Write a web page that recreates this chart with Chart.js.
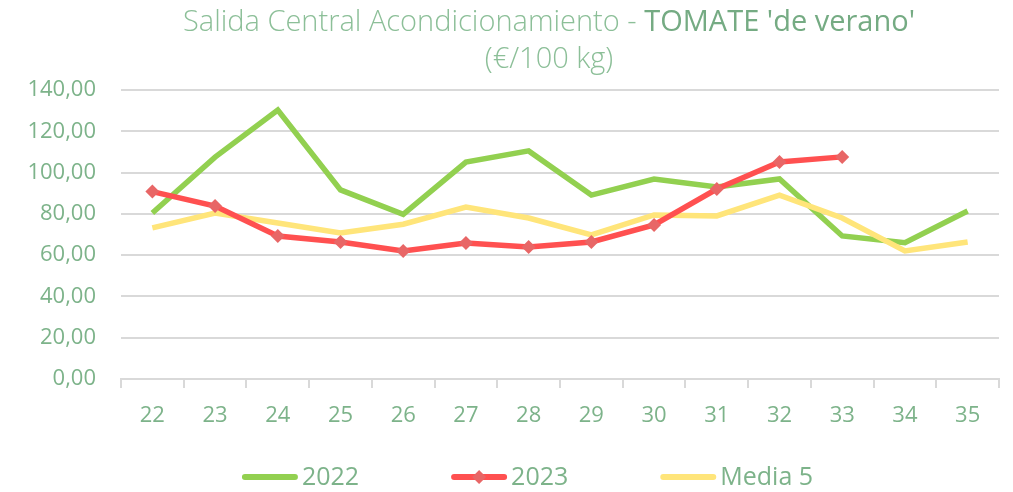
<!DOCTYPE html>
<html>
<head>
<meta charset="utf-8">
<script src="https://cdn.jsdelivr.net/npm/chart.js@4/dist/chart.umd.min.js"></script>
<style>
html,body{margin:0;padding:0;background:#ffffff;}
#wrap{width:1013px;height:492px;position:relative;}
</style>
</head>
<body>
<div id="wrap"><canvas id="c" width="1013" height="492"></canvas></div>
<script>
// ---- data ----
const categories = ['22','23','24','25','26','27','28','29','30','31','32','33','34','35'];
const values2022 = [80.4,107.5,130.3,91.6,79.8,105.1,110.5,89.1,96.9,93.0,96.9,69.3,66.0,81.4];
const values2023 = [90.8,83.8,69.3,66.4,62.0,65.9,64.0,66.4,74.6,92.0,105.1,107.6,null,null];
const valuesMedia5 = [73.2,80.4,75.6,70.7,75.0,83.3,78.0,69.8,79.5,79.0,89.1,78.0,62.0,66.4];
const seriesNames = ['2022','2023','Media 5'];
const yTickValues = [0,20,40,60,80,100,120,140];
const titleLight = 'Salida Central Acondicionamiento - ';
const titleStrong = "TOMATE 'de verano'";
const titleSub = '(€/100 kg)';

// ---- styles ----
const FONT = "'Open Sans', 'DejaVu Sans', sans-serif";
const TEXT = '#7db38a';
const TITLE_LIGHT = '#8cbf98';
const TITLE_STRONG = '#75ab83';
const GRID = '#d9d9d9';
const C2022 = '#92d050';
const C2023 = '#ff5050';
const C2023_PT = '#e86666';
const CMEDIA = '#ffe57a';

const titlePlugin = {
  id: 'mixedTitle',
  afterDraw(chart) {
    const ctx = chart.ctx;
    ctx.save();
    ctx.textBaseline = 'alphabetic';
    ctx.textAlign = 'left';
    const cx = 549;
    const f1 = '300 29px ' + FONT;
    const f2 = '400 29px ' + FONT;
    ctx.font = f1; const w1 = ctx.measureText(titleLight).width;
    ctx.font = f2; const w2 = ctx.measureText(titleStrong).width;
    let x = cx - (w1 + w2) / 2;
    ctx.font = f1; ctx.fillStyle = TITLE_LIGHT; ctx.fillText(titleLight, x, 31);
    ctx.font = f2; ctx.fillStyle = TITLE_STRONG; ctx.fillText(titleStrong, x + w1, 31);
    ctx.font = f1; ctx.fillStyle = TITLE_LIGHT; ctx.textAlign = 'center';
    ctx.fillText(titleSub, cx, 68);
    ctx.restore();
  }
};

const legendPlugin = {
  id: 'customLegend',
  afterDraw(chart) {
    const ctx = chart.ctx;
    ctx.save();
    ctx.font = '400 25px ' + FONT;
    ctx.textBaseline = 'middle';
    ctx.textAlign = 'left';
    const sample = 56, gapText = 4, gapItem = 92, cy = 477;
    const ds = chart.data.datasets;
    const widths = ds.map(d => sample + gapText + ctx.measureText(d.label).width);
    const total = widths.reduce((a, b) => a + b, 0) + gapItem * (ds.length - 1);
    let x = 527.5 - total / 2;
    ds.forEach((d, i) => {
      ctx.strokeStyle = d.borderColor;
      ctx.lineWidth = 6;
      ctx.lineCap = 'round';
      ctx.beginPath();
      ctx.moveTo(x + 3, cy);
      ctx.lineTo(x + sample - 3, cy);
      ctx.stroke();
      if (d.pointRadius > 0) {
        const r = 7, mx = x + sample / 2;
        ctx.fillStyle = d.pointBackgroundColor;
        ctx.beginPath();
        ctx.moveTo(mx, cy - r); ctx.lineTo(mx + r, cy); ctx.lineTo(mx, cy + r); ctx.lineTo(mx - r, cy);
        ctx.closePath(); ctx.fill();
      }
      ctx.fillStyle = TEXT;
      ctx.fillText(d.label, x + sample + gapText, cy + 1);
      x += widths[i] + gapItem;
    });
    ctx.restore();
  }
};

new Chart(document.getElementById('c'), {
  type: 'line',
  data: {
    labels: categories,
    datasets: [
      { label: seriesNames[0], data: values2022, borderColor: C2022, backgroundColor: C2022,
        borderWidth: 5.5, pointRadius: 0, pointHoverRadius: 0, tension: 0, order: 3 },
      { label: seriesNames[1], data: values2023, borderColor: C2023, backgroundColor: C2023,
        pointBackgroundColor: C2023_PT, pointBorderColor: C2023_PT, pointBorderWidth: 0,
        pointStyle: 'rectRot', pointRadius: 7, borderWidth: 5.5, tension: 0, spanGaps: false, order: 1 },
      { label: seriesNames[2], data: valuesMedia5, borderColor: CMEDIA, backgroundColor: CMEDIA,
        borderWidth: 5.5, pointRadius: 0, pointHoverRadius: 0, tension: 0, order: 2 }
    ]
  },
  options: {
    responsive: false,
    devicePixelRatio: 1,
    animation: false,
    layout: { padding: { top: 90, right: 14, bottom: 0, left: 0 } },
    plugins: { legend: { display: false }, title: { display: false }, tooltip: { enabled: false } },
    scales: {
      x: {
        offset: true,
        grid: { offset: true, drawOnChartArea: false, drawTicks: true, tickLength: 9, color: GRID, lineWidth: 2 },
        border: { display: true, color: GRID, width: 2 },
        ticks: { color: TEXT, font: { family: FONT, size: 22 }, padding: 15, maxRotation: 0 },
        afterFit(s) { s.height = 113; }
      },
      y: {
        min: 0, max: 140,
        afterBuildTicks(s) { s.ticks = yTickValues.map(v => ({ value: v })); },
        grid: { drawTicks: false, color: GRID, lineWidth: 2 },
        border: { display: false },
        ticks: { color: TEXT, font: { family: FONT, size: 22 }, padding: 25,
          callback: v => v.toFixed(2).replace('.', ',') },
        afterFit(s) { s.width = 121; }
      }
    }
  },
  plugins: [titlePlugin, legendPlugin]
});
</script>
</body>
</html>
